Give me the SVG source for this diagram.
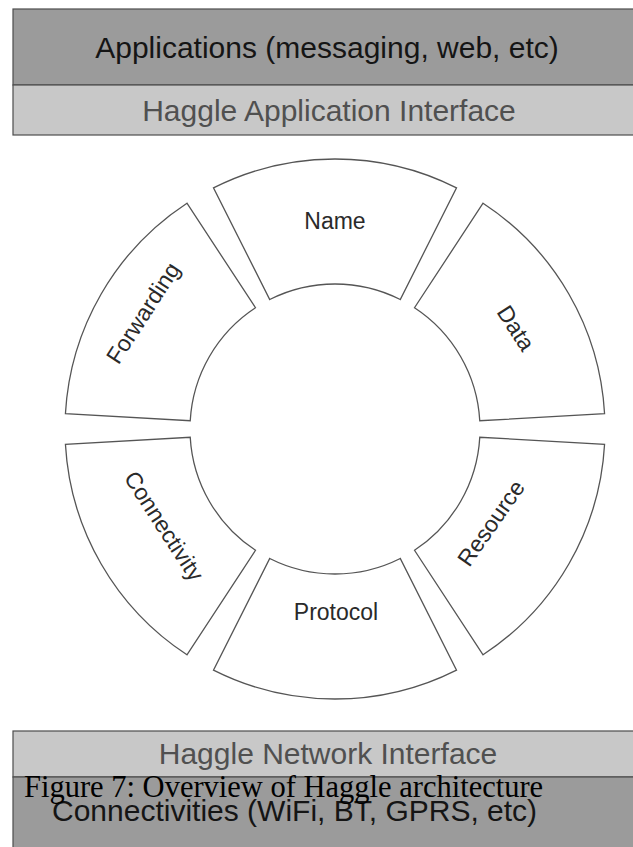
<svg xmlns="http://www.w3.org/2000/svg" width="633" height="847" viewBox="0 0 633 847">
  <style>
    .band-dark { fill: #9b9b9b; stroke: #4d4d4d; stroke-width: 1.2; }
    .band-light { fill: #c8c8c8; stroke: #4d4d4d; stroke-width: 1.2; }
    .seg { fill: #ffffff; stroke: #555555; stroke-width: 1.3; }
    .t-dark { font-family: "Liberation Sans", Arial, sans-serif; font-size: 30px; fill: #151515; text-anchor: middle; }
    .t-light { font-family: "Liberation Sans", Arial, sans-serif; font-size: 30px; fill: #505050; text-anchor: middle; }
    .t-seg { font-family: "Liberation Sans", Arial, sans-serif; font-size: 23px; fill: #2a2a2a; text-anchor: middle; }
    .caption { font-family: "Liberation Serif", "Times New Roman", serif; font-size: 30.5px; fill: #000000; }
  </style>
  <defs>
    <!-- one ring sector of 53.5 degrees, centred on the upward axis, around the origin -->
    <path id="sector" d="M -121.53 -241.11 A 270 270 0 0 1 121.53 -241.11 L 65.26 -129.49 A 145 145 0 0 0 -65.26 -129.49 Z"/>
  </defs>

  <rect width="633" height="847" fill="#ffffff"/>

  <!-- top layers -->
  <g id="applications">
    <rect class="band-dark" x="13" y="9" width="640" height="76"/>
    <text class="t-dark" x="327" y="58">Applications (messaging, web, etc)</text>
  </g>
  <g id="app-interface">
    <rect class="band-light" x="13" y="85" width="640" height="50"/>
    <text class="t-light" x="329" y="121">Haggle Application Interface</text>
  </g>

  <!-- ring of managers around (335, 429) -->
  <g id="name">
    <use href="#sector" class="seg" transform="translate(335 429)"/>
    <text class="t-seg" x="335" y="229">Name</text>
  </g>
  <g id="data">
    <use href="#sector" class="seg" transform="translate(335 429) rotate(60)"/>
    <text class="t-seg" transform="translate(516 328) rotate(57)" x="0" y="8">Data</text>
  </g>
  <g id="resource">
    <use href="#sector" class="seg" transform="translate(335 429) rotate(120)"/>
    <text class="t-seg" transform="translate(491 523) rotate(-55)" x="0" y="8">Resource</text>
  </g>
  <g id="protocol">
    <use href="#sector" class="seg" transform="translate(335 429) rotate(180)"/>
    <text class="t-seg" x="336" y="620">Protocol</text>
  </g>
  <g id="connectivity">
    <use href="#sector" class="seg" transform="translate(335 429) rotate(240)"/>
    <text class="t-seg" transform="translate(164 526) rotate(57)" x="0" y="8">Connectivity</text>
  </g>
  <g id="forwarding">
    <use href="#sector" class="seg" transform="translate(335 429) rotate(300)"/>
    <text class="t-seg" transform="translate(143 313) rotate(-57)" x="0" y="8">Forwarding</text>
  </g>

  <!-- bottom layers -->
  <g id="net-interface">
    <rect class="band-light" x="13" y="731" width="640" height="46"/>
    <text class="t-light" x="328" y="764">Haggle Network Interface</text>
  </g>
  <g id="connectivities">
    <rect class="band-dark" x="13" y="777" width="640" height="80"/>
    <text class="t-dark" x="52" y="821" style="text-anchor:start">Connectivities (WiFi, BT, GPRS, etc)</text>
  </g>

  <g id="connectors"/>

  <text class="caption" x="24" y="797">Figure 7: Overview of Haggle architecture</text>
</svg>
